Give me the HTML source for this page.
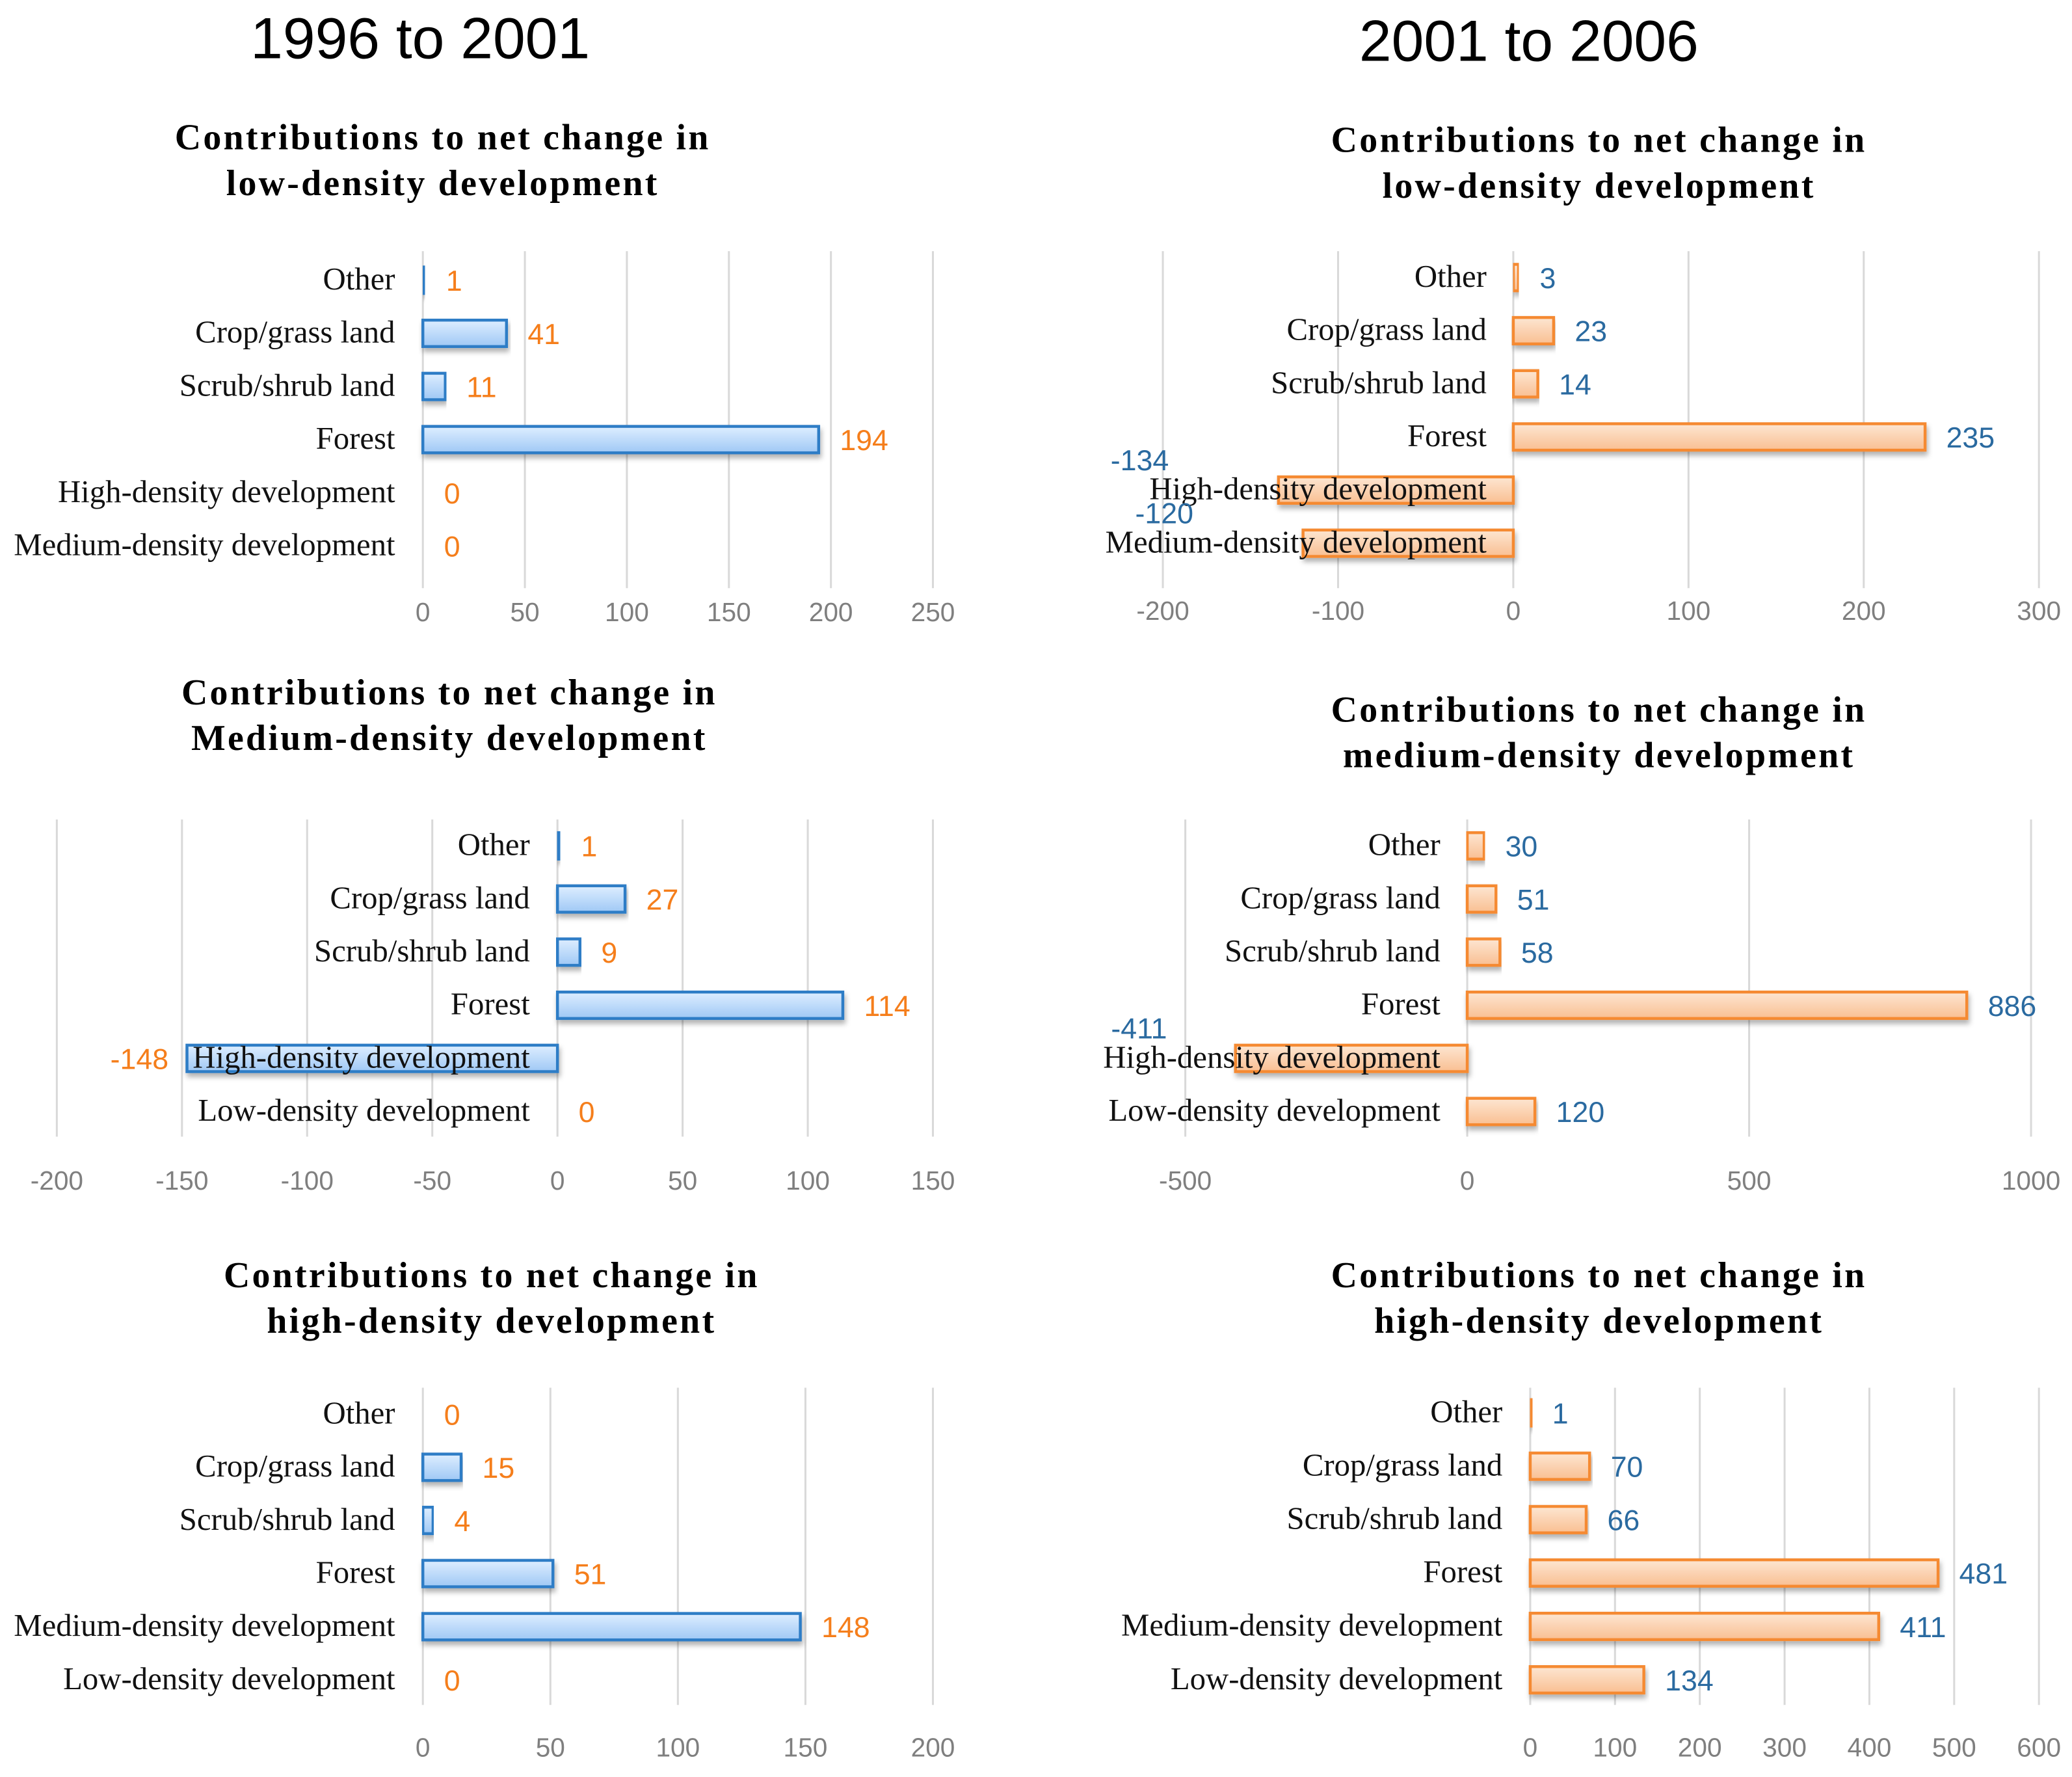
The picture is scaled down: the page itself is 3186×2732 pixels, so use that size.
<!DOCTYPE html>
<html><head><meta charset="utf-8"><style>
html,body{margin:0;padding:0;background:#fff;}
svg{display:block;}
</style></head><body>
<svg id="fig" width="3186" height="2732" viewBox="0 0 1568 1344.5" xmlns="http://www.w3.org/2000/svg">
<defs>
<linearGradient id="gb" x1="0" y1="0" x2="0" y2="1"><stop offset="0" stop-color="#deeeff"/><stop offset="1" stop-color="#9fc8f5"/></linearGradient>
<linearGradient id="go" x1="0" y1="0" x2="0" y2="1"><stop offset="0" stop-color="#fde6d2"/><stop offset="1" stop-color="#f9bf92"/></linearGradient>
<filter id="sh" x="-5%" y="-30%" width="110%" height="180%"><feDropShadow dx="1" dy="3" stdDeviation="2" flood-color="#000" flood-opacity="0.3"/></filter>
</defs>
<text x="318" y="44" text-anchor="middle" font-family="Liberation Sans, sans-serif" font-size="44">1996 to 2001</text>
<text x="1157" y="46" text-anchor="middle" font-family="Liberation Sans, sans-serif" font-size="44">2001 to 2006</text>
</svg>
<script>
// Panel data
const catsA = ["Other","Crop/grass land","Scrub/shrub land","Forest","High-density development","Medium-density development"];
const valsA = [1,41,11,194,0,0];
const ticksA = [0,50,100,150,200,250];
const catsB = ["Other","Crop/grass land","Scrub/shrub land","Forest","High-density development","Medium-density development"];
const valsB = [3,23,14,235,-134,-120];
const ticksB = [-200,-100,0,100,200,300];
const catsC = ["Other","Crop/grass land","Scrub/shrub land","Forest","High-density development","Low-density development"];
const valsC = [1,27,9,114,-148,0];
const ticksC = [-200,-150,-100,-50,0,50,100,150];
const catsD = ["Other","Crop/grass land","Scrub/shrub land","Forest","High-density development","Low-density development"];
const valsD = [30,51,58,886,-411,120];
const ticksD = [-500,0,500,1000];
const catsE = ["Other","Crop/grass land","Scrub/shrub land","Forest","Medium-density development","Low-density development"];
const valsE = [0,15,4,51,148,0];
const ticksE = [0,50,100,150,200];
const catsF = ["Other","Crop/grass land","Scrub/shrub land","Forest","Medium-density development","Low-density development"];
const valsF = [1,70,66,481,411,134];
const ticksF = [0,100,200,300,400,500,600];

const NS="http://www.w3.org/2000/svg";
const svg=document.getElementById('fig');
function mk(tag,attrs,parent){const e=document.createElementNS(NS,tag);for(const k in attrs)e.setAttribute(k,attrs[k]);(parent||svg).appendChild(e);return e;}

const panels=[
 {id:'a',cats:catsA,vals:valsA,ticks:ticksA,x0:320,x1:706,row0:212,step:40.2,labX:299,title:["Contributions to net change in","low-density development"],tx:335,ty:113,gTop:190,gBot:445,tickY:470,blue:true,negLab:null},
 {id:'b',cats:catsB,vals:valsB,ticks:ticksB,x0:880,x1:1543,row0:210,step:40.2,labX:1125,title:["Contributions to net change in","low-density development"],tx:1210,ty:115,gTop:190,gBot:445,tickY:469,blue:false,negLab:-105},
 {id:'c',cats:catsC,vals:valsC,ticks:ticksC,x0:43,x1:706,row0:640,step:40.2,labX:401,title:["Contributions to net change in","Medium-density development"],tx:340,ty:533,gTop:620,gBot:860,tickY:900,blue:true,negLab:'left'},
 {id:'d',cats:catsD,vals:valsD,ticks:ticksD,x0:897,x1:1537,row0:640,step:40.2,labX:1090,title:["Contributions to net change in","medium-density development"],tx:1210,ty:546,gTop:620,gBot:860,tickY:900,blue:false,negLab:-73},
 {id:'e',cats:catsE,vals:valsE,ticks:ticksE,x0:320,x1:706,row0:1070,step:40.2,labX:299,title:["Contributions to net change in","high-density development"],tx:372,ty:974,gTop:1050,gBot:1290,tickY:1329,blue:true,negLab:null},
 {id:'f',cats:catsF,vals:valsF,ticks:ticksF,x0:1158,x1:1543,row0:1069,step:40.4,labX:1137,title:["Contributions to net change in","high-density development"],tx:1210,ty:974,gTop:1050,gBot:1290,tickY:1329,blue:false,negLab:null}
];

panels.forEach(p=>{
 const g=mk('g',{});
 
 
 const tmin=p.ticks[0],tmax=p.ticks[p.ticks.length-1];
 const xs=v=>p.x0+(v-tmin)/(tmax-tmin)*(p.x1-p.x0);
 const zero=xs(0);
 p.title.forEach((t,i)=>{
  const e=mk('text',{x:p.tx,y:p.ty+i*34.5,'text-anchor':'middle','font-family':'Liberation Serif, serif','font-size':'27.5','font-weight':'bold','letter-spacing':'1.6'},g);
  e.textContent=t;
  
  
 });
 p.ticks.forEach(t=>{
  const x=xs(t);
  const l=mk('line',{x1:x,x2:x,y1:p.gTop,y2:p.gBot,stroke:'#d9d9d9','stroke-width':'1.5'},g);
  
  
  const tl=mk('text',{x:x,y:p.tickY,'text-anchor':'middle','font-family':'Liberation Sans, sans-serif','font-size':'20',fill:'#7f7f7f'},g);
  tl.textContent=t;
  
  
 });
 const col=p.blue?'#2e7dc6':'#f58a33';
 const labCol=p.blue?'#f57e1b':'#2a6aa0';
 p.cats.forEach((c,i)=>{
  const cy=p.row0+i*p.step;
  const v=p.vals[i];
  const xe=xs(v);
  if(v!==0){
   const r=mk('rect',{x:Math.min(zero,xe),y:cy-10,width:Math.max(Math.abs(xe-zero),1.5),height:20,fill:p.blue?'url(#gb)':'url(#go)',stroke:col,'stroke-width':'2.2',filter:'url(#sh)'},g);
   
   
  }
  const lab=mk('text',{x:p.labX,y:cy+7,'text-anchor':'end','font-family':'Liberation Serif, serif','font-size':'24',fill:'#111'},g);
  lab.textContent=c;
  
  
  let vx,vy=cy+8,anch='start';
  if(v>=0){vx=Math.max(xe,zero)+16;}
  else if(p.negLab==='left'){vx=xe-14;anch='end';}
  else{vx=xe+p.negLab;vy=cy-15;anch='middle';}
  const vl=mk('text',{x:vx,y:vy,'text-anchor':anch,'font-family':'Liberation Sans, sans-serif','font-size':'22',fill:labCol},g);
  vl.textContent=v;
  
  
 });
});
</script>
</body></html>
